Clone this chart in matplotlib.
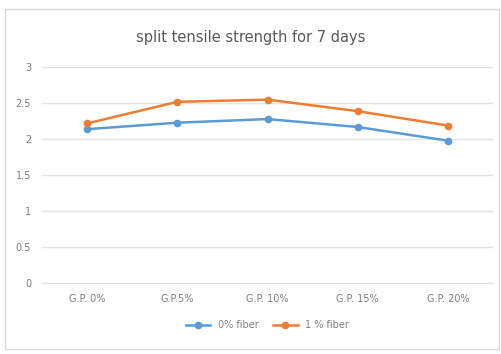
import matplotlib.pyplot as plt
import numpy as np
from matplotlib.patches import Rectangle

# split tensile strength (MPa) at 7 days
categories = ['G.P. 0%', 'G.P.5%', 'G.P. 10%', 'G.P. 15%', 'G.P. 20%']
fiber_0 = [2.14, 2.23, 2.28, 2.17, 1.98]
fiber_1 = [2.22, 2.52, 2.55, 2.39, 2.19]

blue = '#5b9bd5'
orange = '#ed7d31'
text_gray = '#7f7f7f'

fig = plt.figure(figsize=(5.02, 3.54), dpi=100)
fig.patches.append(Rectangle((0.010, 0.015), 0.985, 0.96, transform=fig.transFigure,
                             fill=False, edgecolor='#d9d9d9', linewidth=1.0))

ax = fig.add_axes([0.084, 0.200, 0.898, 0.610])
x = np.arange(len(categories))

ax.plot(x, fiber_0, color=blue, linewidth=1.8, marker='o', markersize=4.5, label='0% fiber')
ax.plot(x, fiber_1, color=orange, linewidth=1.8, marker='o', markersize=4.5, label='1 % fiber')

ax.set_xlim(-0.5, len(categories) - 0.5)
ax.set_ylim(0, 3)
ax.set_yticks(np.arange(0, 3.01, 0.5))
ax.set_yticklabels(['0', '0.5', '1', '1.5', '2', '2.5', '3'])
ax.set_xticks(x)
ax.set_xticklabels(categories)
ax.grid(axis='y', color='#e3e3e3', linewidth=1)
ax.set_axisbelow(True)
ax.tick_params(length=0, labelsize=7, colors=text_gray, pad=8)
for side in ['top', 'right', 'left']:
    ax.spines[side].set_visible(False)
ax.spines['bottom'].set_color('#e3e3e3')

fig.text(0.5, 0.895, 'split tensile strength for 7 days', ha='center', va='center',
         fontsize=10.5, color='#595959')

ax.legend(loc='upper center', bbox_to_anchor=(0.5, -0.13), ncol=2, frameon=False,
          fontsize=7, labelcolor=text_gray, handlelength=2.5, columnspacing=1.5)

fig.savefig('out.png', dpi=100)
